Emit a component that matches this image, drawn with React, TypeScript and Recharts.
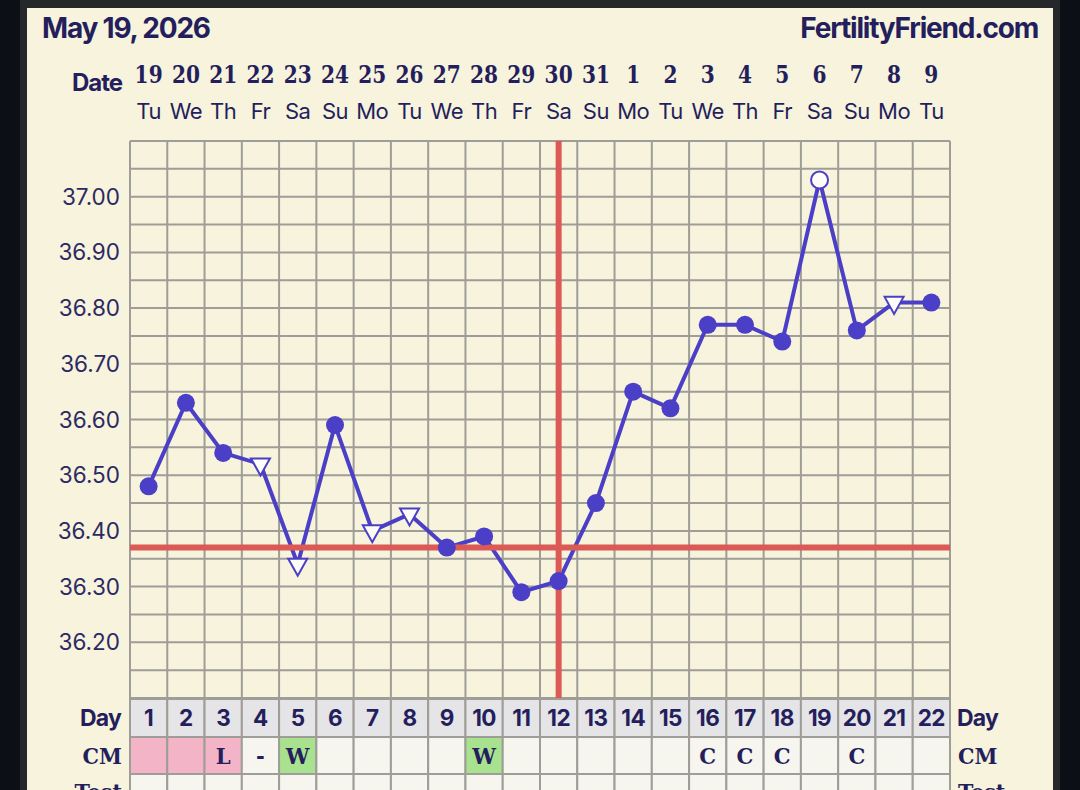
import React from 'react';
import { ComposedChart, Line, XAxis, YAxis, CartesianGrid, ReferenceLine } from 'recharts';

// ---------- data ----------
const cycleDays = [1, 2, 3, 4, 5, 6, 7, 8, 9, 10, 11, 12, 13, 14, 15, 16, 17, 18, 19, 20, 21, 22];
const dateLabels = ['19', '20', '21', '22', '23', '24', '25', '26', '27', '28', '29', '30', '31', '1', '2', '3', '4', '5', '6', '7', '8', '9'];
const weekdayLabels = ['Tu', 'We', 'Th', 'Fr', 'Sa', 'Su', 'Mo', 'Tu', 'We', 'Th', 'Fr', 'Sa', 'Su', 'Mo', 'Tu', 'We', 'Th', 'Fr', 'Sa', 'Su', 'Mo', 'Tu'];
const temperatures = [36.48, 36.63, 36.54, 36.52, 36.34, 36.59, 36.40, 36.43, 36.37, 36.39, 36.29, 36.31, 36.45, 36.65, 36.62, 36.77, 36.77, 36.74, 37.03, 36.76, 36.81, 36.81];
const markerTypes = ['dot', 'dot', 'dot', 'tri', 'tri', 'dot', 'tri', 'tri', 'dot', 'dot', 'dot', 'dot', 'dot', 'dot', 'dot', 'dot', 'dot', 'dot', 'open', 'dot', 'tri', 'dot'];
const cmLabels = ['', '', 'L', '-', 'W', '', '', '', '', 'W', '', '', '', '', '', 'C', 'C', 'C', '', 'C', '', ''];
const cmKinds = ['pink', 'pink', 'pink', '', 'green', '', '', '', '', 'green', '', '', '', '', '', '', '', '', '', '', '', ''];
const coverline = 36.37;
const ovulationDay = 12;
const yGridTicks = [36.10, 36.15, 36.20, 36.25, 36.30, 36.35, 36.40, 36.45, 36.50, 36.55, 36.60, 36.65, 36.70, 36.75, 36.80, 36.85, 36.90, 36.95, 37.00, 37.05, 37.10];
const yLabelTicks = ['36.20', '36.30', '36.40', '36.50', '36.60', '36.70', '36.80', '36.90', '37.00'];
const columnBoundaries = [0.5, 1.5, 2.5, 3.5, 4.5, 5.5, 6.5, 7.5, 8.5, 9.5, 10.5, 11.5, 12.5, 13.5, 14.5, 15.5, 16.5, 17.5, 18.5, 19.5, 20.5, 21.5, 22.5];
const titleText = 'May 19, 2026';
const siteText = 'FertilityFriend.com';

const rows = cycleDays.map((d, i) => ({ day: d, temp: temperatures[i] }));

// ---------- styles ----------
const W = 1080;
const H = 790;
const LEFT_W = 130;
const RIGHT_W = 130;
const TOP_H = 141;
const BOTTOM_H = 92;
const PLOT_W = W - LEFT_W - RIGHT_W;
const COL_W = PLOT_W / cycleDays.length;
const PLOT_BOTTOM = H - BOTTOM_H;

const NAVY = '#241f5c';
const BLUE = '#4a3fc6';
const RED = '#dc5a56';
const GRID = '#9e9d97';
const CREAM = '#f7f3dc';
const SANS = 'Inter, "Noto Sans", sans-serif';
const SLAB = '"DejaVu Serif", serif';
const cellFill: Record<string, string> = { pink: '#f3b4c7', green: '#a8e28f', '': '#f6f6ef' };

const SlabText = (p: { x: number; y: number; size: number; sx: number; anchor?: string; children: any }) => (
  <text
    transform={`translate(${p.x},${p.y}) scale(${p.sx},1)`}
    x={0}
    y={0}
    textAnchor={p.anchor || 'middle'}
    fontFamily={SLAB}
    fontWeight={700}
    fontSize={p.size}
    fill={NAVY}
  >
    {p.children}
  </text>
);

const TopTick = (props: any) => {
  const { x, payload } = props;
  const i = cycleDays.indexOf(payload.value);
  if (i < 0) return <g />;
  return (
    <g>
      <SlabText x={x} y={83} size={24} sx={0.84}>
        {dateLabels[i]}
      </SlabText>
      <text x={x} y={119} textAnchor="middle" fontFamily={SANS} fontSize={22} fill={NAVY} letterSpacing={-0.5}>
        {weekdayLabels[i]}
      </text>
    </g>
  );
};

const BottomTick = (props: any) => {
  const { x, payload } = props;
  const i = cycleDays.indexOf(payload.value);
  if (i < 0) return <g />;
  const left = x - COL_W / 2;
  const dayTop = PLOT_BOTTOM + 1;
  const cmTop = dayTop + 38;
  const testTop = cmTop + 37;
  return (
    <g>
      <rect x={left} y={dayTop} width={COL_W} height={38} fill="#e5e4e6" stroke={GRID} strokeWidth={2} />
      <rect x={left} y={cmTop} width={COL_W} height={37} fill={cellFill[cmKinds[i]]} stroke={GRID} strokeWidth={2} />
      <rect x={left} y={testTop} width={COL_W} height={40} fill="#f6f6ef" stroke={GRID} strokeWidth={2} />
      <text x={x} y={726} textAnchor="middle" fontFamily={SANS} fontWeight={700} fontSize={22.5} fill={NAVY} letterSpacing={-0.5}>
        {payload.value}
      </text>
      {cmLabels[i] ? (
        <SlabText x={x} y={764} size={23} sx={0.92}>
          {cmLabels[i]}
        </SlabText>
      ) : null}
    </g>
  );
};

const LeftTick = (props: any) => {
  const { x, y, payload } = props;
  const label = Number(payload.value).toFixed(2);
  if (!yLabelTicks.includes(label)) return <g />;
  return (
    <text x={x - 8} y={y + 8} textAnchor="end" fontFamily={SANS} fontSize={22.5} fill="#2c2963">
      {label}
    </text>
  );
};

const RightTick = (props: any) => {
  const { x, y, payload } = props;
  const label = Number(payload.value).toFixed(2);
  if (!yLabelTicks.includes(label)) return <g />;
  return (
    <text x={x + 8} y={y + 8} textAnchor="start" fontFamily={SANS} fontSize={22.5} fill="#2c2963">
      {label}
    </text>
  );
};

const Marker = (props: any) => {
  const { cx, cy, index } = props;
  const kind = markerTypes[index];
  if (cx == null || cy == null) return <g key={`m-${index}`} />;
  if (kind === 'tri') {
    const w = 19;
    const h = 17;
    const pts = `${cx - w / 2},${cy - h / 3} ${cx + w / 2},${cy - h / 3} ${cx},${cy + (2 * h) / 3}`;
    return <polygon key={`m-${index}`} points={pts} fill="#fdfcf6" stroke={BLUE} strokeWidth={2} strokeLinejoin="miter" />;
  }
  if (kind === 'open') {
    return <circle key={`m-${index}`} cx={cx} cy={cy} r={8.5} fill="#fdfcf6" stroke={BLUE} strokeWidth={2} />;
  }
  return <circle key={`m-${index}`} cx={cx} cy={cy} r={9} fill={BLUE} stroke="none" />;
};

export default function App() {
  return (
    <div style={{ position: 'fixed', left: 0, top: 0, width: W, height: H, background: '#0c1016', overflow: 'hidden' }}>
      <div style={{ position: 'absolute', left: 20, top: 0, width: 1040, height: H, background: '#24282b' }} />
      <div style={{ position: 'absolute', left: 27, top: 8, width: 1026, height: H - 8, background: CREAM }} />
      <div style={{ position: 'absolute', left: 0, top: 0 }}>
        <ComposedChart width={W} height={H} data={rows} margin={{ top: 0, right: 0, bottom: 0, left: 0 }}>
          <XAxis xAxisId="grid" dataKey="day" type="number" domain={[0.5, 22.5]} ticks={columnBoundaries} hide />
          <XAxis
            xAxisId="top"
            orientation="top"
            dataKey="day"
            type="number"
            domain={[0.5, 22.5]}
            ticks={cycleDays}
            interval={0}
            height={TOP_H}
            axisLine={false}
            tickLine={false}
            tickSize={0}
            tick={<TopTick />}
          />
          <XAxis
            xAxisId="bottom"
            orientation="bottom"
            dataKey="day"
            type="number"
            domain={[0.5, 22.5]}
            ticks={cycleDays}
            interval={0}
            height={BOTTOM_H}
            axisLine={false}
            tickLine={false}
            tickSize={0}
            tick={<BottomTick />}
          />
          <YAxis
            yAxisId="left"
            type="number"
            domain={[36.1, 37.1]}
            ticks={yGridTicks}
            interval={0}
            width={LEFT_W}
            axisLine={false}
            tickLine={false}
            tickSize={0}
            tick={<LeftTick />}
          />
          <YAxis
            yAxisId="right"
            orientation="right"
            type="number"
            domain={[36.1, 37.1]}
            ticks={yGridTicks}
            interval={0}
            width={RIGHT_W}
            axisLine={false}
            tickLine={false}
            tickSize={0}
            tick={<RightTick />}
          />
          <CartesianGrid xAxisId="grid" yAxisId="left" stroke={GRID} strokeWidth={2} />
          <Line
            xAxisId="bottom"
            yAxisId="left"
            dataKey="temp"
            stroke={BLUE}
            strokeWidth={4}
            strokeLinejoin="round"
            dot={(p: any) => <Marker {...p} key={`mk-${p.index}`} />}
            activeDot={false}
            isAnimationActive={false}
          />
          <ReferenceLine xAxisId="bottom" yAxisId="left" y={coverline} stroke={RED} strokeWidth={6} />
          <ReferenceLine xAxisId="bottom" yAxisId="left" x={ovulationDay} stroke={RED} strokeWidth={6} />
          {/* titles & row labels */}
          <text x={42} y={38} fontFamily={SANS} fontWeight={700} fontSize={28} fill={NAVY} letterSpacing={-1.2}>
            {titleText}
          </text>
          <text x={1038} y={38} textAnchor="end" fontFamily={SANS} fontWeight={700} fontSize={28} fill={NAVY} letterSpacing={-1.2}>
            {siteText}
          </text>
          <text x={122} y={91} textAnchor="end" fontFamily={SANS} fontWeight={700} fontSize={24} fill={NAVY} letterSpacing={-1}>
            Date
          </text>
          <text x={121} y={726} textAnchor="end" fontFamily={SANS} fontWeight={700} fontSize={23} fill={NAVY} letterSpacing={-0.8}>
            Day
          </text>
          <SlabText x={122} y={764} size={23} sx={0.9} anchor="end">
            CM
          </SlabText>
          <SlabText x={122} y={800} size={23} sx={0.9} anchor="end">
            Test
          </SlabText>
          <text x={957} y={726} fontFamily={SANS} fontWeight={700} fontSize={23} fill={NAVY} letterSpacing={-0.8}>
            Day
          </text>
          <SlabText x={958} y={764} size={23} sx={0.9} anchor="start">
            CM
          </SlabText>
          <SlabText x={958} y={800} size={23} sx={0.9} anchor="start">
            Test
          </SlabText>
        </ComposedChart>
      </div>
    </div>
  );
}
